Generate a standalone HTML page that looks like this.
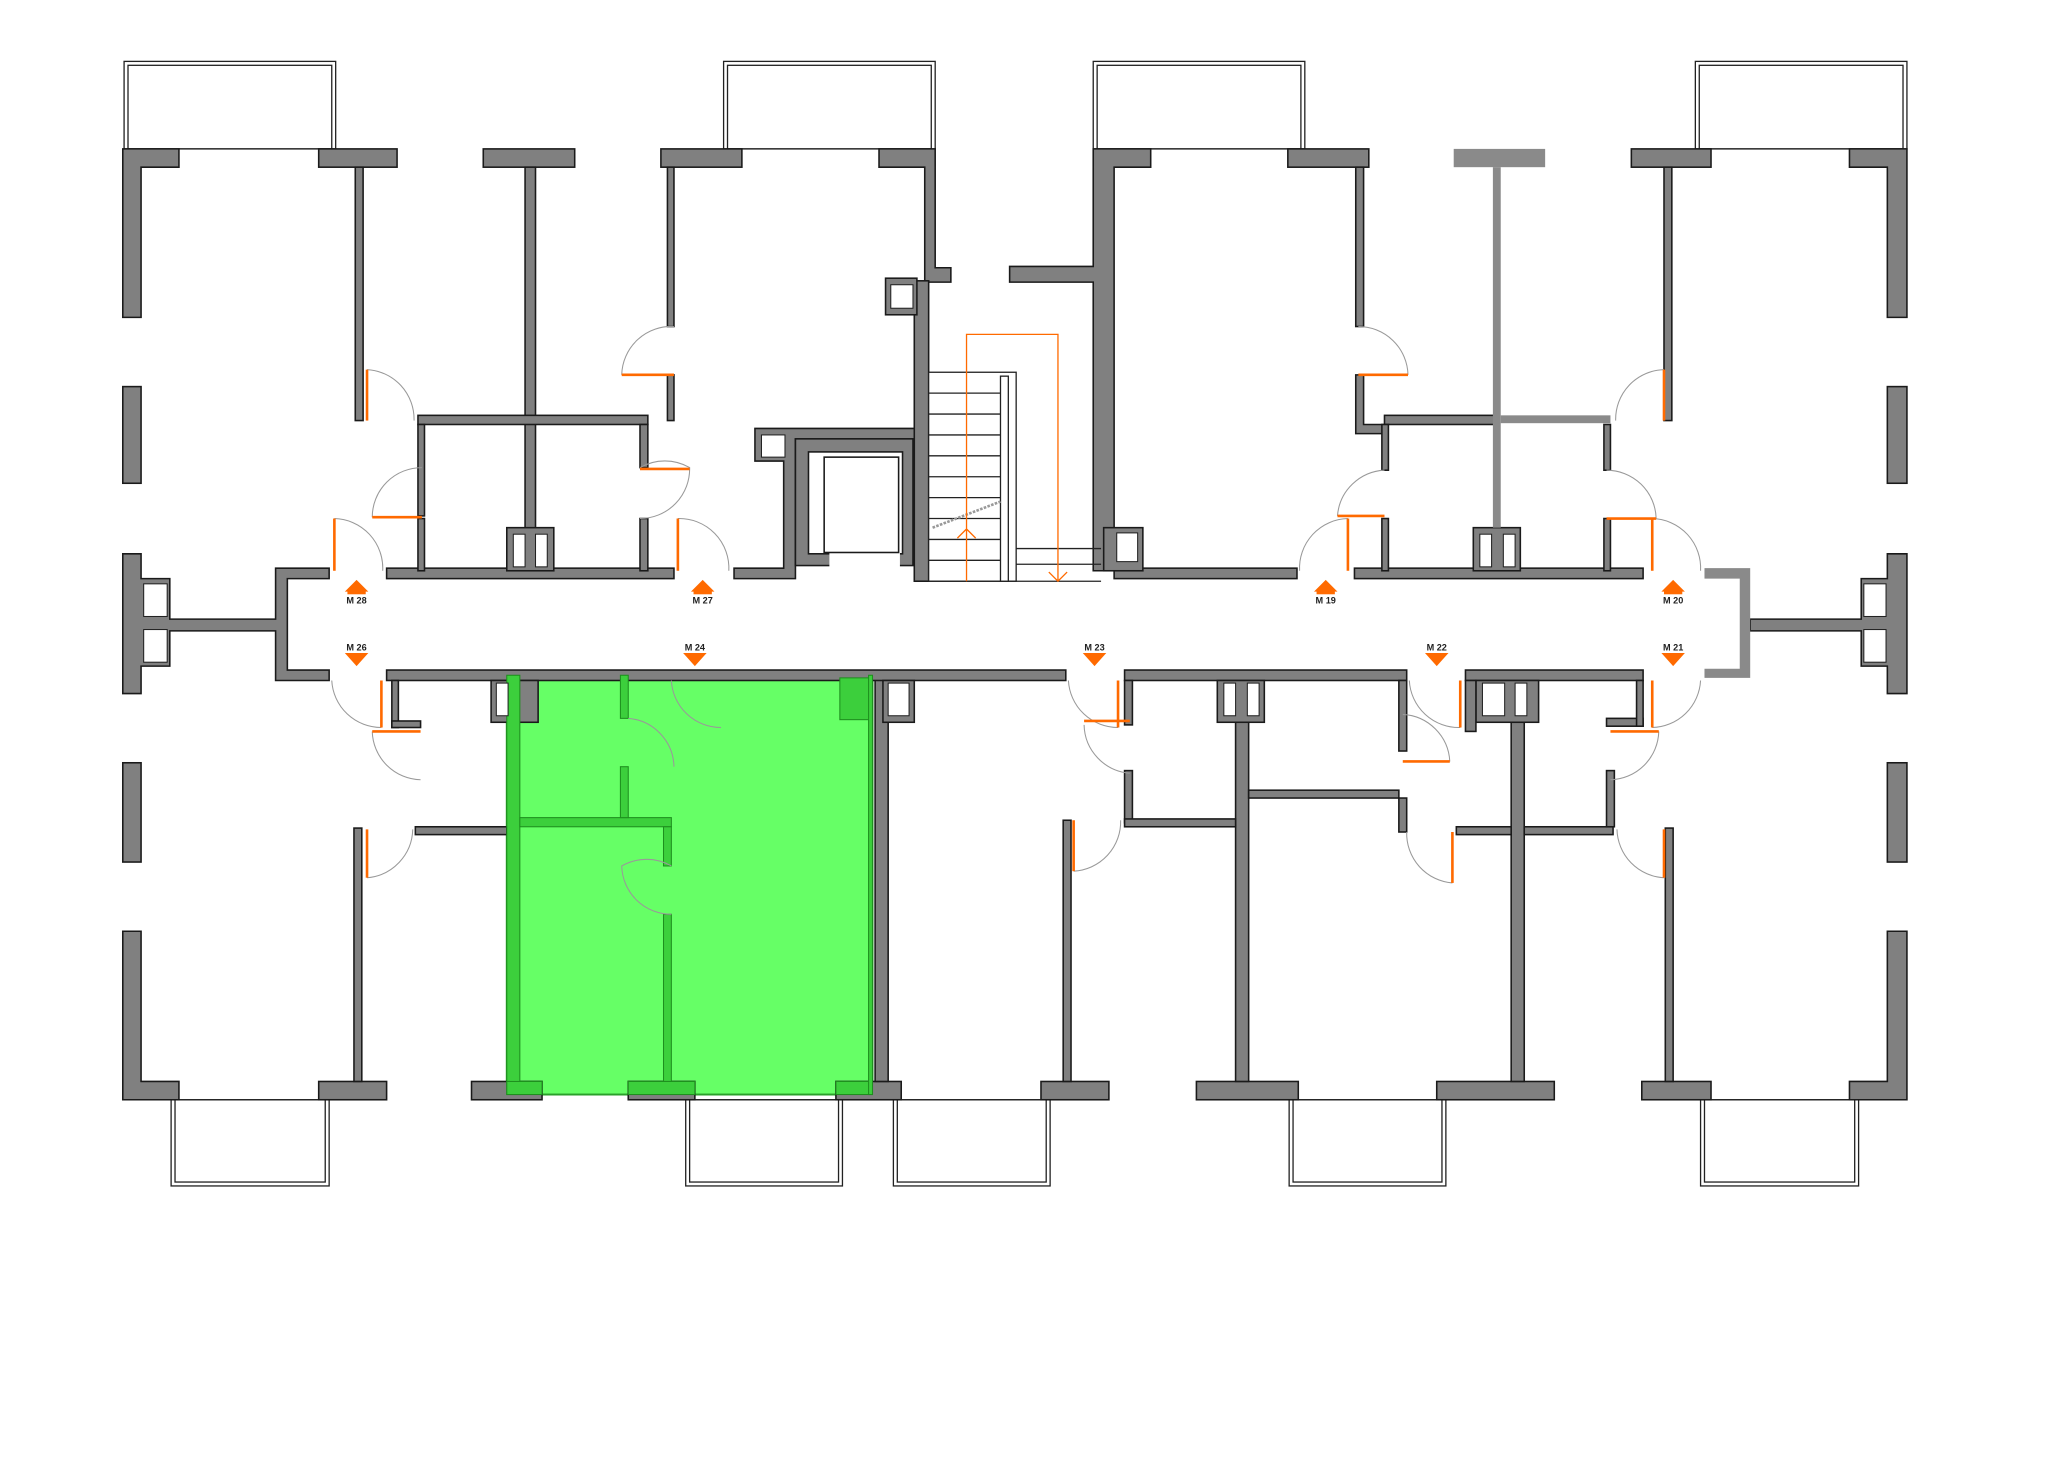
<!DOCTYPE html>
<html><head><meta charset="utf-8"><style>
html,body{margin:0;padding:0;background:#fff;}
svg{display:block;}
.w{fill:#808080;stroke:#1a1a1a;stroke-width:1.2;}
.lg{fill:#8a8a8a;stroke:none;}
.b{fill:none;stroke:#222;stroke-width:1;}
.arc{fill:none;stroke:#999;stroke-width:0.8;}
.o{stroke:#ff6a00;stroke-width:2;fill:none;}
.ot{fill:none;stroke:#ff6a00;stroke-width:1;}
.ar{fill:#ff6a00;}
.lb{font-family:"Liberation Sans",sans-serif;font-size:7px;font-weight:bold;fill:#222;text-anchor:middle;}
.u{fill:#fff;stroke:#222;stroke-width:0.8;}
</style></head><body>
<svg width="2048" height="1478" viewBox="0 0 1568 1131.6" xmlns="http://www.w3.org/2000/svg">
<rect width="1568" height="1131.6" fill="#fff"/>
<g class="b">
<rect x="95" y="47" width="162" height="67"/><rect x="98" y="50" width="156" height="64"/>
<rect x="554" y="47" width="162" height="67"/><rect x="557" y="50" width="156" height="64"/>
<rect x="837" y="47" width="162" height="67"/><rect x="840" y="50" width="156" height="64"/>
<rect x="1298" y="47" width="162" height="67"/><rect x="1301" y="50" width="156" height="64"/>
<rect x="131" y="842" width="121" height="66"/><rect x="134" y="842" width="115" height="63"/>
<rect x="525" y="842" width="120" height="66"/><rect x="528" y="842" width="114" height="63"/>
<rect x="684" y="842" width="120" height="66"/><rect x="687" y="842" width="114" height="63"/>
<rect x="987" y="842" width="120" height="66"/><rect x="990" y="842" width="114" height="63"/>
<rect x="1302" y="842" width="121" height="66"/><rect x="1305" y="842" width="115" height="63"/>
</g>
<rect x="388" y="517" width="280" height="321" fill="#66ff66" stroke="#2aa02a" stroke-width="1.5"/>
<g class="w">
<path d="M94 114H137V128H108V243H94Z"/>
<rect x="244" y="114" width="60" height="14"/><rect x="272" y="128" width="6" height="194"/>
<rect x="370" y="114" width="70" height="14"/><rect x="402" y="128" width="8" height="309"/>
<rect x="506" y="114" width="62" height="14"/><rect x="511" y="128" width="5" height="122"/><rect x="511" y="287" width="5" height="35"/>
<path d="M673 114H716V205H728V216H708V128H673Z"/>
<path d="M837 114H881V128H853V437H837V216H773V204H837Z"/>
<rect x="986" y="114" width="62" height="14"/><rect x="1038" y="128" width="6" height="122"/>
<path d="M1038 287H1044V325H1060V332H1038Z"/>
<rect x="1249" y="114" width="61" height="14"/><rect x="1274" y="128" width="6" height="194"/>
<path d="M1416 114H1460V243H1445V128H1416Z"/>
<rect x="94" y="296" width="14" height="74"/><rect x="94" y="584" width="14" height="76"/>
<rect x="1445" y="296" width="15" height="74"/><rect x="1445" y="584" width="15" height="76"/>
<path d="M94 424H108V443H130V474H211V435H252V443H220V513H252V521H211V483H130V510H108V531H94Z"/>
<path d="M1460 424H1445V443H1425V474H1340V483H1425V510H1445V531H1460Z"/>
<path d="M94 713H108V828H137V842H94Z"/>
<rect x="244" y="828" width="52" height="14"/><rect x="271" y="634" width="6" height="194"/>
<rect x="361" y="828" width="54" height="14"/>
<rect x="481" y="828" width="51" height="14"/>
<rect x="640" y="828" width="50" height="14"/>
<rect x="670" y="518" width="10" height="310"/>
<rect x="797" y="828" width="52" height="14"/><rect x="814" y="628" width="6" height="200"/>
<rect x="916" y="828" width="78" height="14"/><rect x="946" y="518" width="10" height="310"/>
<rect x="1100" y="828" width="90" height="14"/><rect x="1157" y="518" width="10" height="310"/>
<rect x="1257" y="828" width="53" height="14"/><rect x="1275" y="634" width="6" height="194"/>
<path d="M1416 828H1445V713H1460V842H1416Z"/>
<rect x="296" y="435" width="220" height="8"/>
<rect x="388" y="404" width="36" height="33"/>
<rect x="320" y="318" width="176" height="7"/><rect x="320" y="325" width="5" height="70"/><rect x="320" y="397" width="5" height="40"/>
<rect x="490" y="325" width="6" height="33"/><rect x="490" y="397" width="6" height="40"/>
<!-- elevator -->
<path d="M562 435H600V353H578V328H700V336H609V443H562Z"/>
<rect x="609" y="336" width="90" height="97"/>
<rect x="700" y="215" width="11" height="230"/>
<rect x="853" y="435" width="140" height="8"/><rect x="845" y="404" width="30" height="33"/>
<rect x="1037" y="435" width="221" height="8"/>
<rect x="1060" y="318" width="84" height="7"/><rect x="1058" y="325" width="5" height="35"/><rect x="1058" y="397" width="5" height="40"/>
<rect x="1228" y="325" width="5" height="35"/><rect x="1228" y="397" width="5" height="40"/>
<rect x="1128" y="404" width="36" height="33"/>
<rect x="678" y="213" width="24" height="28"/>
<rect x="296" y="513" width="520" height="8"/>
<rect x="861" y="513" width="216" height="8"/>
<rect x="1122" y="513" width="136" height="8"/>
<rect x="300" y="521" width="5" height="36"/><rect x="300" y="552" width="22" height="5"/>
<rect x="318" y="633" width="70" height="6"/>
<rect x="376" y="521" width="36" height="32"/>
<rect x="676" y="521" width="24" height="32"/>
<rect x="932" y="521" width="36" height="32"/>
<rect x="1130" y="521" width="48" height="32"/>
<rect x="861" y="521" width="6" height="34"/><rect x="861" y="590" width="6" height="40"/><rect x="861" y="627" width="85" height="6"/>
<rect x="956" y="605" width="115" height="6"/>
<rect x="1071" y="521" width="6" height="54"/><rect x="1071" y="611" width="6" height="26"/>
<rect x="1115" y="633" width="42" height="6"/><rect x="1167" y="633" width="68" height="6"/>
<rect x="1230" y="590" width="6" height="43"/><rect x="1230" y="550" width="28" height="6"/><rect x="1253" y="521" width="5" height="35"/>
<rect x="1122" y="521" width="8" height="39"/>
</g>
<!-- elevator interior -->
<rect x="619" y="346" width="72" height="78" fill="#fff" stroke="#1a1a1a" stroke-width="1.2"/>
<rect x="635" y="423" width="54" height="11" fill="#fff"/>
<rect x="631" y="350" width="57" height="73" fill="#fff" stroke="#1a1a1a" stroke-width="1.2"/>
<g class="lg">
<rect x="1113" y="114" width="70" height="14"/><rect x="1143" y="128" width="6" height="276"/>
<rect x="1149" y="318" width="84" height="6"/>
<path d="M1305 435H1340V519H1305V512H1332V443H1305Z"/>
</g>
<g fill="#3ccf3c" stroke="#1e8f1e" stroke-width="0.8">
<rect x="388" y="517" width="10" height="321"/>
<rect x="398" y="626" width="116" height="7"/>
<rect x="475" y="517" width="6" height="33"/><rect x="475" y="587" width="6" height="39"/>
<rect x="508" y="633" width="6" height="30"/><rect x="508" y="700" width="6" height="128"/>
<rect x="388" y="828" width="27" height="10"/><rect x="481" y="828" width="51" height="10"/><rect x="640" y="828" width="28" height="10"/>
<rect x="643" y="519" width="25" height="32"/>
<rect x="665" y="517" width="3" height="321"/>
</g>
<rect x="711" y="285" width="67" height="160" fill="#fff" stroke="#222"/>
<g stroke="#222" stroke-width="1">
<line x1="711" y1="301" x2="766" y2="301"/><line x1="711" y1="317" x2="766" y2="317"/><line x1="711" y1="333" x2="766" y2="333"/>
<line x1="711" y1="349" x2="766" y2="349"/><line x1="711" y1="365" x2="766" y2="365"/><line x1="711" y1="381" x2="766" y2="381"/>
<line x1="711" y1="397" x2="766" y2="397"/><line x1="711" y1="413" x2="766" y2="413"/><line x1="711" y1="429" x2="766" y2="429"/>
<line x1="778" y1="420" x2="843" y2="420"/><line x1="778" y1="432" x2="843" y2="432"/><line x1="711" y1="445" x2="843" y2="445"/>
</g>
<rect x="766" y="288" width="6" height="157" fill="#fff" stroke="#222"/>
<line x1="714" y1="404" x2="766" y2="384" stroke="#999" stroke-width="2" stroke-dasharray="2 1"/>
<path class="ot" d="M740 445V256H810V445M733 412l7-7 7 7M803 438l7 7 7-7"/>
<g class="u">
<rect x="110" y="447" width="18" height="25"/><rect x="110" y="482" width="18" height="25"/>
<rect x="1427" y="447" width="17" height="25"/><rect x="1427" y="482" width="17" height="25"/>
<rect x="393" y="409" width="9" height="25"/><rect x="410" y="409" width="9" height="25"/>
<rect x="1133" y="409" width="9" height="25"/><rect x="1151" y="409" width="9" height="25"/>
<rect x="583" y="333" width="18" height="17"/><rect x="682" y="218" width="17" height="18"/>
<rect x="855" y="408" width="16" height="22"/>
<rect x="680" y="523" width="16" height="25"/><rect x="380" y="523" width="9" height="25"/>
<rect x="937" y="523" width="9" height="25"/><rect x="955" y="523" width="9" height="25"/>
<rect x="1135" y="523" width="17" height="25"/><rect x="1160" y="523" width="9" height="25"/>
</g>
<g class="arc">
<path d="M281 283A38 38 0 0 1 317 322"/><path d="M323 358A38 38 0 0 0 285 396"/><path d="M256 397A38 38 0 0 1 293 437"/>
<path d="M516 250A38 38 0 0 0 476 287"/><path d="M490 358A38 38 0 0 1 528 358A38 38 0 0 1 490 397"/><path d="M519 397A38 38 0 0 1 558 437"/>
<path d="M1040 250A38 38 0 0 1 1078 287"/><path d="M1060 360A38 38 0 0 0 1024 395"/><path d="M1032 397A38 38 0 0 0 995 437"/>
<path d="M1274 283A38 38 0 0 0 1237 322"/><path d="M1230 360A38 38 0 0 1 1268 397"/><path d="M1265 397A38 38 0 0 1 1302 437"/>
<path d="M254 521A38 38 0 0 0 292 557"/><path d="M285 560A38 38 0 0 0 322 597"/><path d="M316 635A38 38 0 0 1 281 672"/>
<path d="M514 521A38 38 0 0 0 552 557"/><path d="M481 550A38 38 0 0 1 516 587"/><path d="M514 663A38 38 0 0 0 476 663A38 38 0 0 0 514 700"/>
<path d="M818 521A38 38 0 0 0 856 557"/><path d="M830 555A38 38 0 0 0 865 592"/><path d="M858 628A38 38 0 0 1 822 667"/>
<path d="M1079 521A38 38 0 0 0 1118 557"/><path d="M1074 547A38 38 0 0 1 1110 583"/><path d="M1077 637A38 38 0 0 0 1112 676"/>
<path d="M1302 521A38 38 0 0 1 1265 557"/><path d="M1270 560A38 38 0 0 1 1233 597"/><path d="M1238 635A38 38 0 0 0 1274 672"/>
</g>
<g class="o">
<line x1="281" y1="283" x2="281" y2="322"/><line x1="285" y1="396" x2="323" y2="396"/><line x1="256" y1="397" x2="256" y2="437"/>
<line x1="476" y1="287" x2="516" y2="287"/><line x1="490" y1="359" x2="528" y2="359"/><line x1="519" y1="397" x2="519" y2="437"/>
<line x1="1040" y1="287" x2="1078" y2="287"/><line x1="1024" y1="395" x2="1060" y2="395"/><line x1="1032" y1="397" x2="1032" y2="437"/>
<line x1="1274" y1="283" x2="1274" y2="322"/><line x1="1230" y1="397" x2="1268" y2="397"/><line x1="1265" y1="397" x2="1265" y2="437"/>
<line x1="292" y1="521" x2="292" y2="557"/><line x1="285" y1="560" x2="322" y2="560"/><line x1="281" y1="635" x2="281" y2="672"/>
<line x1="856" y1="521" x2="856" y2="557"/><line x1="830" y1="552" x2="865" y2="552"/><line x1="822" y1="628" x2="822" y2="667"/>
<line x1="1118" y1="521" x2="1118" y2="557"/><line x1="1074" y1="583" x2="1110" y2="583"/><line x1="1112" y1="637" x2="1112" y2="676"/>
<line x1="1265" y1="521" x2="1265" y2="557"/><line x1="1233" y1="560" x2="1270" y2="560"/><line x1="1274" y1="635" x2="1274" y2="672"/>
</g>
<g class="ar">
<path d="M273 444L264 453H282Z"/><rect x="266" y="452" width="14" height="3"/>
<path d="M538 444L529 453H547Z"/><rect x="531" y="452" width="14" height="3"/>
<path d="M1015 444L1006 453H1024Z"/><rect x="1008" y="452" width="14" height="3"/>
<path d="M1281 444L1272 453H1290Z"/><rect x="1274" y="452" width="14" height="3"/>
<path d="M264 500H282L273 510Z"/><path d="M523 500H541L532 510Z"/><path d="M829 500H847L838 510Z"/>
<path d="M1091 500H1109L1100 510Z"/><path d="M1272 500H1290L1281 510Z"/>
</g>
<g class="lb">
<text x="273" y="462">M 28</text><text x="538" y="462">M 27</text><text x="1015" y="462">M 19</text><text x="1281" y="462">M 20</text>
<text x="273" y="498">M 26</text><text x="532" y="498">M 24</text><text x="838" y="498">M 23</text><text x="1100" y="498">M 22</text><text x="1281" y="498">M 21</text>
</g>
</svg>
</body></html>
